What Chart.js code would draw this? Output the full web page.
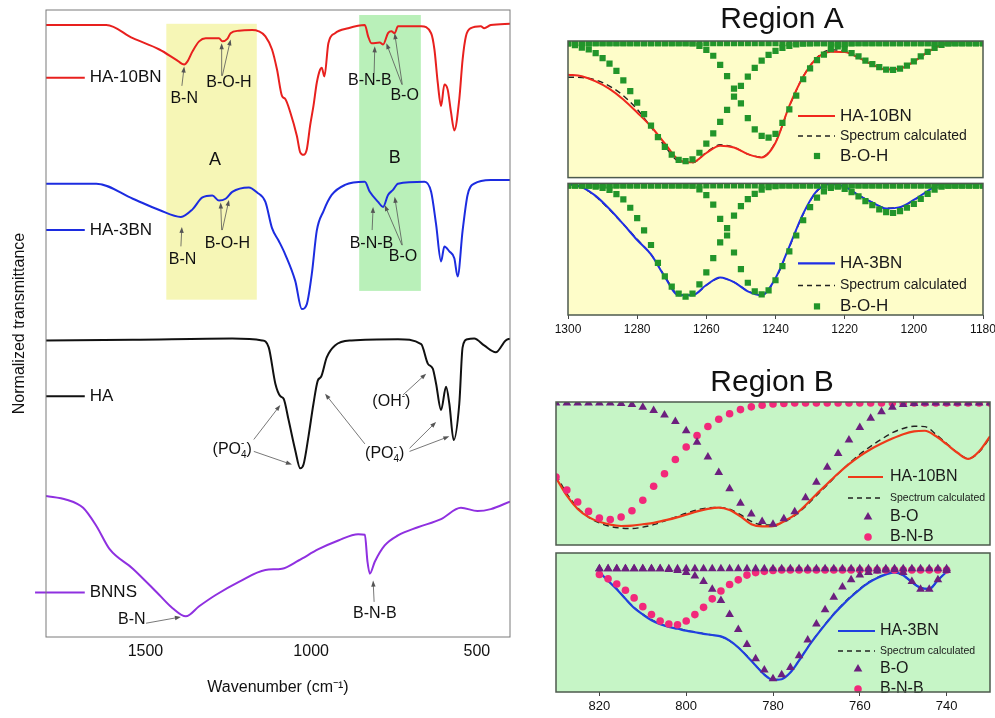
<!DOCTYPE html>
<html>
<head>
<meta charset="utf-8">
<script src="https://cdn.jsdelivr.net/npm/chart.js@4.4.1/dist/chart.umd.min.js"></script>
<style>
html, body { margin: 0; padding: 0; background: #fff; }
#wrap { position: relative; width: 995px; height: 718px; overflow: hidden; }
canvas { position: absolute; }
</style>
</head>
<body>
<div id="wrap">
  <canvas id="main" width="540" height="718" style="left:0;top:0"></canvas>
  <canvas id="aTop" width="440" height="182" style="left:555px;top:0"></canvas>
  <canvas id="aBot" width="460" height="170" style="left:545px;top:179px"></canvas>
  <canvas id="bTop" width="445" height="190" style="left:550px;top:360px"></canvas>
  <canvas id="bBot" width="445" height="172" style="left:550px;top:548px"></canvas>
</div>
<script>
// ---- main FTIR spectra (wavenumber, normalized transmittance, offset per sample)
var ha10Wn = [1800,1618,1538,1458,1408,1383,1373,1358,1338,1318,1278,1268,1253,1243,1218,1178,1158,1138,1118,1103,1088,1078,1063,1043,1033,1023,1013,1003,993,983,973,968,960,948,928,888,838,828,818,793,783,768,758,748,738,668,638,628,618,608,598,588,578,568,553,543,533,518,488,478,458,400];
var ha10T  = [97.6,97.6,95.5,93.7,92.1,91.3,91.8,93.4,95.0,95.5,95.5,95.0,95.4,96.3,96.7,96.8,96.6,95.8,93.7,90.5,86.3,85.8,83.7,79.9,77.3,76.9,77.8,81.6,84.7,88.4,90.5,90.8,89.4,94.7,96.3,97.1,97.6,95.8,94.7,94.8,94.5,96.3,96.6,96.3,97.4,97.4,96.3,93.7,88.4,84.7,88.1,87.3,83.7,80.8,85.8,92.1,95.8,97.1,97.4,97.1,97.6,97.8];

var ha3Wn = [1800,1648,1538,1458,1393,1358,1328,1298,1278,1258,1238,1188,1163,1138,1118,1098,1078,1048,1028,1013,998,983,963,938,898,838,823,798,783,768,753,738,658,638,623,608,598,583,568,558,543,528,508,458,400];
var ha3T  = [72.3,72.3,69.9,68.1,67.0,68.2,70.1,70.4,69.6,69.9,71.0,71.7,70.9,69.4,65.2,63.2,61.0,56.8,52.3,53.1,57.9,64.8,67.9,70.5,72.1,72.6,71.0,69.4,68.6,70.5,71.3,72.3,72.6,71.0,65.8,59.9,62.3,61.5,60.4,57.5,64.8,70.5,72.3,72.9,72.9];

var haWn = [1800,1538,1238,1148,1128,1108,1093,1083,1068,1048,1033,1023,1008,993,980,970,953,928,878,738,668,648,633,623,608,593,583,570,553,543,528,508,478,443,413,400];
var haT  = [47.3,47.4,47.6,47.3,46.2,40.4,38.4,38.0,34.6,29.8,26.9,27.5,32.0,37.2,40.9,41.5,44.6,46.5,47.3,47.5,46.7,43.6,42.8,40.4,36.2,39.9,37.2,31.4,37.2,46.2,47.5,47.6,46.5,45.4,47.3,47.6];

var bnnsWn = [1800,1738,1688,1648,1608,1538,1458,1418,1378,1338,1288,1218,1138,1088,1038,978,918,858,838,830,823,808,778,738,678,608,548,498,458,400];
var bnnsT  = [22.5,21.9,20.6,17.7,14.0,10.9,6.7,4.6,3.3,4.9,6.7,8.8,10.7,10.9,12.2,14.0,15.4,16.4,16.3,12.0,10.1,12.0,14.6,16.2,17.5,18.8,20.6,20.1,20.4,21.6];

var mainTicks = [1500, 1000, 500];

// ---- Region A (1300-1180 cm-1), fitted B-O-H components
var aLineWn = [1300,1296,1292,1288,1284,1280,1276,1272,1268,1264,1260,1256,1252,1248,1244,1240,1236,1232,1228,1224,1220,1216,1212,1208,1204,1200,1196,1192,1188,1184,1180];
var aTopHA10 = [0.753,0.742,0.705,0.650,0.572,0.476,0.374,0.250,0.130,0.112,0.180,0.233,0.220,0.172,0.148,0.255,0.525,0.738,0.875,0.922,0.920,0.878,0.828,0.792,0.799,0.849,0.918,0.972,0.994,1.000,1.000];
var aTopCalc = [0.735,0.732,0.715,0.670,0.600,0.500,0.370,0.230,0.120,0.108,0.185,0.240,0.222,0.172,0.150,0.260,0.520,0.740,0.880,0.935,0.925,0.880,0.830,0.792,0.800,0.850,0.918,0.972,0.994,1.000,1.000];
var aBotHA3  = [1.000,0.972,0.905,0.805,0.690,0.570,0.460,0.290,0.150,0.150,0.228,0.285,0.250,0.180,0.150,0.280,0.520,0.770,0.945,0.997,0.975,0.910,0.855,0.810,0.820,0.875,0.942,1.000,1.000,1.000,1.000];
var aBotCalc = [0.995,0.968,0.900,0.800,0.690,0.575,0.460,0.295,0.155,0.150,0.225,0.282,0.250,0.182,0.155,0.275,0.515,0.765,0.940,0.995,0.973,0.912,0.855,0.812,0.818,0.872,0.940,0.998,1.000,1.000,1.000];

var aDotWn = [1300,1298,1296,1294,1292,1290,1288,1286,1284,1282,1280,1278,1276,1274,1272,1270,1268,1266,1264,1262,1260,1258,1256,1254,1252,1250,1248,1246,1244,1242,1240,1238,1236,1234,1232,1230,1228,1226,1224,1222,1220,1218,1216,1214,1212,1210,1208,1206,1204,1202,1200,1198,1196,1194,1192,1190,1188,1186,1184,1182,1180];
var aTopBoh1 = [0.983,0.969,0.952,0.938,0.911,0.875,0.835,0.782,0.712,0.633,
                0.549,0.465,0.381,0.297,0.225,0.168,0.129,0.120,0.134,0.182,
                0.249,0.324,0.408,0.496,0.592,0.671,0.739,0.803,0.856,0.899,
                0.928,0.950,0.965,0.975,0.980,0.983,0.985,0.985,0.985,0.985,
                0.985,0.985,0.985,0.985,0.985,0.985,0.985,0.985,0.985,0.985,
                0.985,0.985,0.985,0.985,0.985,0.985,0.985,0.985,0.985,0.985,0.985];
var aTopBoh2 = [0.985,0.985,0.985,0.985,0.985,0.985,0.985,0.985,0.985,0.985,
                0.985,0.985,0.985,0.985,0.985,0.985,0.985,0.985,0.983,0.964,
                0.935,0.892,0.825,0.743,0.652,0.544,0.436,0.353,0.305,0.293,
                0.320,0.400,0.500,0.600,0.720,0.800,0.860,0.900,0.940,0.960,
                0.975,0.983,0.985,0.985,0.985,0.985,0.985,0.985,0.985,0.985,
                0.985,0.985,0.985,0.985,0.985,0.985,0.985,0.985,0.985,0.985,0.985];
var aTopBoh3 = [0.985,0.985,0.985,0.985,0.985,0.985,0.985,0.985,0.985,0.985,
                0.985,0.985,0.985,0.985,0.985,0.985,0.985,0.985,0.985,0.985,
                0.985,0.985,0.985,0.985,0.985,0.985,0.985,0.985,0.985,0.985,
                0.985,0.985,0.985,0.985,0.985,0.985,0.985,0.985,0.985,0.976,
                0.940,0.911,0.887,0.856,0.830,0.808,0.791,0.789,0.798,0.820,
                0.851,0.887,0.921,0.950,0.971,0.983,0.985,0.985,0.985,0.985,0.985];
var aBotBoh1 = [0.985,0.985,0.985,0.983,0.976,0.966,0.950,0.918,0.878,0.815,
                0.736,0.643,0.532,0.396,0.293,0.216,0.163,0.139,0.163,0.233,
                0.324,0.432,0.552,0.660,0.755,0.827,0.880,0.921,0.952,0.971,
                0.980,0.985,0.985,0.985,0.985,0.985,0.985,0.985,0.985,0.985,
                0.985,0.985,0.985,0.985,0.985,0.985,0.985,0.985,0.985,0.985,
                0.985,0.985,0.985,0.985,0.985,0.985,0.985,0.985,0.985,0.985,0.985];
var aBotBoh2 = [0.985,0.985,0.985,0.985,0.985,0.985,0.985,0.985,0.985,0.985,
                0.985,0.985,0.985,0.985,0.985,0.985,0.985,0.985,0.983,0.954,
                0.911,0.839,0.731,0.604,0.475,0.348,0.245,0.180,0.156,0.187,
                0.264,0.372,0.484,0.604,0.720,0.820,0.892,0.940,0.966,0.983,
                0.985,0.985,0.985,0.985,0.985,0.985,0.985,0.985,0.985,0.985,
                0.985,0.985,0.985,0.985,0.985,0.985,0.985,0.985,0.985,0.985,0.985];
var aBotBoh3 = [0.985,0.985,0.985,0.985,0.985,0.985,0.985,0.985,0.985,0.985,
                0.985,0.985,0.985,0.985,0.985,0.985,0.985,0.985,0.985,0.985,
                0.985,0.985,0.985,0.985,0.985,0.985,0.985,0.985,0.985,0.985,
                0.985,0.985,0.985,0.985,0.985,0.985,0.985,0.985,0.980,0.975,
                0.959,0.933,0.902,0.866,0.835,0.803,0.782,0.775,0.789,0.815,
                0.844,0.882,0.921,0.952,0.976,0.983,0.985,0.985,0.985,0.985,0.985];
var aTicks = [1300, 1280, 1260, 1240, 1220, 1200, 1180];

// ---- Region B (830-730 cm-1), fitted B-O and B-N-B components
var bTopWn = [830,827.5,825,822.5,820,817.5,815,812.5,810,807.5,805,802.5,800,797.5,795,792.5,790,787.5,785,782.5,780,777.5,775,772.5,770,767.5,765,762.5,760,757.5,755,752.5,750,747.5,745,742.5,740,737.5,735,732.5,730];
var bTopHA10 = [0.470,0.345,0.252,0.195,0.162,0.142,0.133,0.135,0.145,0.155,
                0.172,0.190,0.212,0.235,0.253,0.262,0.245,0.200,0.145,0.130,
                0.132,0.165,0.210,0.278,0.355,0.428,0.500,0.565,0.622,0.670,
                0.710,0.745,0.775,0.795,0.799,0.762,0.705,0.645,0.602,0.655,0.760];
var bTopCalc = [0.490,0.360,0.260,0.195,0.155,0.130,0.118,0.115,0.125,0.142,
                0.168,0.195,0.222,0.245,0.260,0.262,0.250,0.212,0.165,0.140,
                0.140,0.160,0.205,0.270,0.345,0.420,0.498,0.570,0.635,0.690,
                0.740,0.785,0.815,0.830,0.828,0.775,0.710,0.645,0.605,0.650,0.750];
var bTopBO  = [0.993,0.993,0.993,0.993,0.993,0.993,0.989,0.982,0.963,0.941,
               0.909,0.863,0.799,0.719,0.616,0.507,0.393,0.292,0.217,0.164,
               0.145,0.183,0.233,0.331,0.438,0.543,0.639,0.735,0.822,0.886,
               0.932,0.963,0.982,0.990,0.993,0.993,0.993,0.993,0.993,0.993,0.993];
var bTopBNB = [0.475,0.384,0.301,0.235,0.189,0.178,0.196,0.240,0.313,0.411,
               0.498,0.598,0.685,0.765,0.829,0.879,0.918,0.947,0.966,0.977,
               0.986,0.990,0.993,0.993,0.993,0.993,0.993,0.993,0.993,0.993,
               0.993,0.993,0.993,0.993,0.993,0.993,0.993,0.993,0.993,0.993,0.993];

var bBotWn = [820,818,816,814,812,810,808,806,804,802,800,798,796,794,792,790,788,786,784,782,780,778,776,774,772,770,768,766,764,762,760,758,756,754,752,750,748,746,744,742,740];
var bBotHA3  = [0.864,0.800,0.740,0.670,0.605,0.557,0.516,0.487,0.468,0.455,
                0.441,0.430,0.418,0.410,0.400,0.370,0.320,0.258,0.190,0.125,
                0.088,0.092,0.140,0.225,0.320,0.405,0.485,0.560,0.625,0.685,
                0.739,0.786,0.820,0.846,0.860,0.840,0.790,0.750,0.742,0.805,0.865];
var bBotCalc = [0.860,0.800,0.742,0.672,0.607,0.560,0.520,0.490,0.470,0.457,
                0.443,0.432,0.420,0.410,0.398,0.368,0.320,0.260,0.192,0.127,
                0.090,0.095,0.143,0.228,0.322,0.407,0.488,0.563,0.630,0.690,
                0.743,0.790,0.823,0.848,0.860,0.838,0.790,0.750,0.742,0.805,0.865];
var bBotBO1 = [0.886,0.886,0.886,0.886,0.886,0.886,0.886,0.886,0.882,0.875,
               0.859,0.834,0.795,0.739,0.659,0.557,0.450,0.341,0.239,0.159,
               0.095,0.125,0.177,0.261,0.375,0.489,0.591,0.682,0.755,0.807,
               0.841,0.859,0.870,0.877,0.882,0.886,0.886,0.886,0.886,0.886,0.886];
var bBotBO2 = [0.886,0.886,0.886,0.886,0.886,0.886,0.886,0.886,0.886,0.886,
               0.886,0.886,0.886,0.886,0.886,0.886,0.886,0.886,0.886,0.886,
               0.886,0.886,0.886,0.886,0.886,0.886,0.886,0.886,0.886,0.886,
               0.886,0.886,0.886,0.886,0.886,0.859,0.795,0.739,0.739,0.807,0.875];
var bBotBNB = [0.845,0.814,0.777,0.732,0.677,0.614,0.557,0.511,0.489,0.484,
               0.511,0.557,0.609,0.670,0.727,0.773,0.807,0.841,0.859,0.868,
               0.875,0.878,0.878,0.878,0.878,0.878,0.878,0.878,0.878,0.878,
               0.878,0.878,0.878,0.878,0.878,0.878,0.878,0.878,0.878,0.878,0.878];
var bTicks = [820, 800, 780, 760, 740];

var FONT = '"Liberation Sans", Arial, Helvetica, sans-serif';
Chart.defaults.font.family = FONT;
Chart.defaults.color = '#111';
Chart.defaults.animation = false;

function pts(xs, ys) {
    return xs.map(function (x, i) { return {x: x, y: ys[i]}; });
}

function lineSet(xs, ys, color, width, dash) {
    return {
        data: pts(xs, ys), showLine: true, borderColor: color, borderWidth: width,
        borderDash: dash || [], pointRadius: 0, pointHoverRadius: 0,
        cubicInterpolationMode: 'monotone', fill: false, clip: 0
    };
}

function dotSet(xs, ys, color, style, r) {
    return {
        data: pts(xs, ys), showLine: false, pointStyle: style, pointRadius: r, pointHoverRadius: r,
        backgroundColor: color, borderColor: color, borderWidth: 0, clip: 0
    };
}

function arrow(ctx, x1, y1, x2, y2) {
    var a = Math.atan2(y2 - y1, x2 - x1), L = 6, W = 2.2;
    ctx.beginPath();
    ctx.moveTo(x1, y1);
    ctx.lineTo(x2 - Math.cos(a) * L * 0.8, y2 - Math.sin(a) * L * 0.8);
    ctx.stroke();
    ctx.beginPath();
    ctx.moveTo(x2, y2);
    ctx.lineTo(x2 - L * Math.cos(a) + W * Math.sin(a), y2 - L * Math.sin(a) - W * Math.cos(a));
    ctx.lineTo(x2 - L * Math.cos(a) - W * Math.sin(a), y2 - L * Math.sin(a) + W * Math.cos(a));
    ctx.closePath();
    ctx.fill();
}

// text with sub/superscripts: parts = [[text, kind, extraSup]]
function drawRich(ctx, parts, cx, cy, size) {
    var small = Math.round(size * 0.6);
    var ws = parts.map(function (p) {
        if (!p[1]) { ctx.font = size + 'px ' + FONT; return ctx.measureText(p[0]).width; }
        ctx.font = small + 'px ' + FONT;
        return Math.max(ctx.measureText(p[0]).width, p[2] ? ctx.measureText(p[2]).width : 0);
    });
    var total = ws.reduce(function (s, w) { return s + w; }, 0);
    var x = cx - total / 2;
    ctx.textAlign = 'left';
    ctx.textBaseline = 'middle';
    parts.forEach(function (p, i) {
        if (!p[1]) {
            ctx.font = size + 'px ' + FONT;
            ctx.fillText(p[0], x, cy);
        } else {
            ctx.font = small + 'px ' + FONT;
            ctx.fillText(p[0], x, p[1] === 'sub' ? cy + size * 0.35 : cy - size * 0.38);
            if (p[2]) ctx.fillText(p[2], x, cy - size * 0.38);
        }
        x += ws[i];
    });
}

// ---------------- main chart ----------------
var PO4 = [['(PO', ''], ['4', 'sub', '-'], [')', '']];
var OH = [['(OH', ''], ['-', 'sup'], [')', '']];

var mainBoxes = [
    {x0: 1437, x1: 1164, y0: 53.8, y1: 97.8, color: '#f6f6b6'},
    {x0: 855, x1: 669, y0: 55.2, y1: 99.2, color: '#b9f0b9'}
];
var mainKeys = [
    {label: 'HA-10BN', color: '#e8201e', y: 89.2, x0: 1800},
    {label: 'HA-3BN', color: '#1c2ce0', y: 64.9, x0: 1800},
    {label: 'HA', color: '#111111', y: 38.4, x0: 1800},
    {label: 'BNNS', color: '#8f30e0', y: 7.1, x0: 1833}
];
var mainNotes = [
    {t: 'B-N', x: 1383, y: 85.8}, {t: 'B-O-H', x: 1248, y: 88.4},
    {t: 'A', x: 1290, y: 76.1, size: 18}, {t: 'B', x: 748, y: 76.4, size: 18},
    {t: 'B-N-B', x: 823, y: 88.7}, {t: 'B-O', x: 718, y: 86.3},
    {t: 'B-N', x: 1388, y: 60.2}, {t: 'B-O-H', x: 1253, y: 62.8},
    {t: 'B-N-B', x: 818, y: 62.8}, {t: 'B-O', x: 723, y: 60.7},
    {rich: PO4, x: 1238, y: 29.9}, {rich: OH, x: 758, y: 37.5}, {rich: PO4, x: 778, y: 29.3},
    {t: 'B-N', x: 1541, y: 2.7}, {t: 'B-N-B', x: 808, y: 3.75}
];
var mainArrows = [
    [1390, 87.9, 1383, 91.0],
    [1270, 89.5, 1270, 94.7], [1268, 89.5, 1243, 95.3],
    [810, 89.9, 808, 94.2],
    [726, 88.1, 773, 94.7], [725, 88.1, 748, 96.3],
    [1393, 62.3, 1390, 65.4],
    [1270, 64.9, 1273, 69.3], [1268, 64.9, 1248, 69.7],
    [816, 64.9, 813, 68.6],
    [726, 62.5, 778, 68.9], [725, 62.5, 748, 70.2],
    [1173, 31.5, 1093, 37.0], [1173, 29.6, 1058, 27.5],
    [723, 38.6, 653, 42.0],
    [838, 30.8, 958, 38.8], [703, 30.1, 623, 34.3], [703, 29.6, 583, 32.0],
    [1498, 2.2, 1393, 3.2],
    [810, 5.6, 813, 9.0]
];

var mainDeco = {
    id: 'mainDeco',
    beforeDatasetsDraw: function (chart) {
        var ctx = chart.ctx, x = chart.scales.x, y = chart.scales.y;
        ctx.save();
        mainBoxes.forEach(function (b) {
            var px0 = x.getPixelForValue(b.x0), px1 = x.getPixelForValue(b.x1);
            var py0 = y.getPixelForValue(b.y1), py1 = y.getPixelForValue(b.y0);
            ctx.fillStyle = b.color;
            ctx.fillRect(px0, py0, px1 - px0, py1 - py0);
        });
        ctx.restore();
    },
    afterDatasetsDraw: function (chart) {
        var ctx = chart.ctx, x = chart.scales.x, y = chart.scales.y, a = chart.chartArea;
        ctx.save();
        mainKeys.forEach(function (k) {
            var py = y.getPixelForValue(k.y);
            ctx.strokeStyle = k.color;
            ctx.lineWidth = 2;
            ctx.beginPath();
            ctx.moveTo(x.getPixelForValue(k.x0), py);
            ctx.lineTo(x.getPixelForValue(1683), py);
            ctx.stroke();
            ctx.fillStyle = '#111';
            ctx.font = '17px ' + FONT;
            ctx.textAlign = 'left';
            ctx.textBaseline = 'middle';
            ctx.fillText(k.label, x.getPixelForValue(1668), py);
        });
        ctx.strokeStyle = '#555';
        ctx.fillStyle = '#555';
        ctx.lineWidth = 0.8;
        mainArrows.forEach(function (r) {
            arrow(ctx, x.getPixelForValue(r[0]), y.getPixelForValue(r[1]), x.getPixelForValue(r[2]), y.getPixelForValue(r[3]));
        });
        ctx.fillStyle = '#111';
        mainNotes.forEach(function (n) {
            var px = x.getPixelForValue(n.x), py = y.getPixelForValue(n.y);
            if (n.rich) {
                drawRich(ctx, n.rich, px, py, 16);
            } else {
                ctx.font = (n.size || 16) + 'px ' + FONT;
                ctx.textAlign = 'center';
                ctx.textBaseline = 'middle';
                ctx.fillText(n.t, px, py);
            }
        });
        ctx.strokeStyle = '#7a7a7a';
        ctx.lineWidth = 1;
        ctx.strokeRect(a.left, a.top, a.right - a.left, a.bottom - a.top);
        ctx.restore();
    }
};

new Chart(document.getElementById('main'), {
    type: 'scatter',
    data: {
        datasets: [
            lineSet(ha10Wn, ha10T, '#e8201e', 2),
            lineSet(ha3Wn, ha3T, '#1c2ce0', 2),
            lineSet(haWn, haT, '#111111', 2),
            lineSet(bnnsWn, bnnsT, '#8f30e0', 2)
        ]
    },
    options: {
        responsive: false,
        animation: false,
        events: [],
        layout: {padding: {left: 4, right: 30, top: 10, bottom: 16.4}},
        plugins: {legend: {display: false}, tooltip: {enabled: false}},
        scales: {
            x: {
                type: 'linear', min: 400, max: 1800, reverse: true,
                grid: {display: false, drawTicks: false}, border: {display: false},
                afterBuildTicks: function (s) { s.ticks = mainTicks.map(function (v) { return {value: v}; }); },
                ticks: {font: {size: 16}, padding: 5, maxRotation: 0, autoSkip: false, color: '#111',
                        callback: function (v) { return String(v); }},
                title: {display: true, text: 'Wavenumber (cm\u207B\u00B9)', font: {size: 16}, color: '#111',
                        padding: {top: 12.2, bottom: 4}}
            },
            y: {
                min: 0, max: 100,
                grid: {display: false, drawTicks: false}, border: {display: false},
                ticks: {display: false},
                title: {display: true, text: 'Normalized transmittance', font: {size: 16}, color: '#111',
                        padding: {top: 6.4, bottom: 16.4}}
            }
        }
    },
    plugins: [mainDeco]
});

// ---------------- region panels ----------------
var panelPlugin = {
    id: 'panel',
    beforeDraw: function (chart, args, o) {
        var a = chart.chartArea, ctx = chart.ctx;
        ctx.save();
        ctx.fillStyle = o.bg;
        ctx.fillRect(a.left, a.top, a.right - a.left, a.bottom - a.top);
        ctx.restore();
    },
    afterDraw: function (chart, args, o) {
        var a = chart.chartArea, ctx = chart.ctx, kx = o.keyX;
        ctx.save();
        (o.keys || []).forEach(function (k) {
            var y = a.top + k.dy;
            if (k.kind === 'line' || k.kind === 'dash') {
                ctx.strokeStyle = k.color;
                ctx.lineWidth = k.kind === 'line' ? 2.2 : 1.5;
                ctx.setLineDash(k.kind === 'dash' ? [5, 4] : []);
                ctx.beginPath();
                ctx.moveTo(a.left + kx[0], y);
                ctx.lineTo(a.left + kx[1], y);
                ctx.stroke();
                ctx.setLineDash([]);
            } else {
                ctx.fillStyle = k.color;
                Chart.helpers.drawPoint(ctx, {pointStyle: k.kind, radius: k.r, rotation: 0, borderWidth: 0}, a.left + kx[2], y);
            }
            ctx.fillStyle = '#1a1a1a';
            ctx.font = k.size + 'px ' + FONT;
            ctx.textAlign = 'left';
            ctx.textBaseline = 'middle';
            ctx.fillText(k.label, a.left + kx[3], y);
        });
        if (o.title) {
            ctx.fillStyle = '#111';
            ctx.font = '30px ' + FONT;
            ctx.textAlign = 'center';
            ctx.textBaseline = 'middle';
            ctx.fillText(o.title, o.titleX, o.titleY);
        }
        ctx.strokeStyle = '#4d5a4d';
        ctx.lineWidth = 1.5;
        ctx.strokeRect(a.left, a.top, a.right - a.left, a.bottom - a.top);
        ctx.restore();
    }
};

function panel(id, cfg) {
    var xs = {type: 'linear', min: cfg.xmin, max: cfg.xmax, reverse: true, display: false};
    if (cfg.ticks) {
        xs = {
            type: 'linear', min: cfg.xmin, max: cfg.xmax, reverse: true, display: true,
            grid: {display: true, drawOnChartArea: false, drawTicks: true, tickLength: 4, color: '#444'},
            border: {display: false},
            afterBuildTicks: function (s) { s.ticks = cfg.ticks.map(function (v) { return {value: v}; }); },
            ticks: {font: {size: cfg.tickSize}, padding: 3, maxRotation: 0, autoSkip: false, color: '#111',
                    callback: function (v) { return String(v); }}
        };
    }
    return new Chart(document.getElementById(id), {
        type: 'scatter',
        data: {datasets: cfg.datasets},
        options: {
            responsive: false,
            animation: false,
            events: [],
            layout: {padding: cfg.pad},
            plugins: {
                legend: {display: false},
                tooltip: {enabled: false},
                panel: {bg: cfg.bg, keys: cfg.keys, keyX: cfg.keyX, title: cfg.title, titleX: cfg.titleX, titleY: cfg.titleY}
            },
            scales: {x: xs, y: {display: false, min: 0, max: 1}}
        },
        plugins: [panelPlugin]
    });
}

var GREEN = '#22952a', PURPLE = '#6c1f7e', PINK = '#f2287a';
var A_BG = '#fefdc9', B_BG = '#c6f5c6';
var SQ = 4.4, TRI = 5, CIR = 3.8;

panel('aTop', {
    xmin: 1180, xmax: 1300, bg: A_BG,
    pad: {left: 13, right: 12, top: 41, bottom: 3},
    title: 'Region A', titleX: 227, titleY: 20,
    datasets: [
        dotSet(aDotWn, aTopBoh1, GREEN, 'rect', SQ),
        dotSet(aDotWn, aTopBoh2, GREEN, 'rect', SQ),
        dotSet(aDotWn, aTopBoh3, GREEN, 'rect', SQ),
        lineSet(aLineWn, aTopHA10, '#f0281e', 2),
        lineSet(aLineWn, aTopCalc, '#222', 1.4, [6, 4])
    ],
    keyX: [230, 267, 249, 272],
    keys: [
        {kind: 'line', color: '#f0281e', label: 'HA-10BN', dy: 75, size: 17},
        {kind: 'dash', color: '#222', label: 'Spectrum calculated', dy: 95, size: 14},
        {kind: 'rect', color: GREEN, r: SQ, label: 'B-O-H', dy: 115, size: 17}
    ]
});

panel('aBot', {
    xmin: 1180, xmax: 1300, bg: A_BG, ticks: aTicks, tickSize: 12,
    pad: {left: 23, right: 22, top: 0, bottom: 9.6},
    datasets: [
        dotSet(aDotWn, aBotBoh1, GREEN, 'rect', SQ),
        dotSet(aDotWn, aBotBoh2, GREEN, 'rect', SQ),
        dotSet(aDotWn, aBotBoh3, GREEN, 'rect', SQ),
        lineSet(aLineWn, aBotHA3, '#1f2ee6', 2),
        lineSet(aLineWn, aBotCalc, '#222', 1.4, [6, 4])
    ],
    keyX: [230, 267, 249, 272],
    keys: [
        {kind: 'line', color: '#1f2ee6', label: 'HA-3BN', dy: 80, size: 17},
        {kind: 'dash', color: '#222', label: 'Spectrum calculated', dy: 102, size: 14},
        {kind: 'rect', color: GREEN, r: SQ, label: 'B-O-H', dy: 123, size: 17}
    ]
});

panel('bTop', {
    xmin: 730, xmax: 830, bg: B_BG,
    pad: {left: 6, right: 3, top: 42, bottom: 2},
    title: 'Region B', titleX: 222, titleY: 23,
    datasets: [
        dotSet(bTopWn, bTopBO, PURPLE, 'triangle', TRI),
        dotSet(bTopWn, bTopBNB, PINK, 'circle', CIR),
        lineSet(bTopWn, bTopHA10, '#ee3a1a', 2.2),
        lineSet(bTopWn, bTopCalc, '#222', 1.4, [6, 4])
    ],
    keyX: [292, 327, 312, 334],
    keys: [
        {kind: 'line', color: '#ee3a1a', label: 'HA-10BN', dy: 75, size: 16},
        {kind: 'dash', color: '#222', label: 'Spectrum calculated', dy: 96, size: 10.5},
        {kind: 'triangle', color: PURPLE, r: TRI, label: 'B-O', dy: 115, size: 16},
        {kind: 'circle', color: PINK, r: CIR, label: 'B-N-B', dy: 135, size: 16}
    ]
});

panel('bBot', {
    xmin: 730, xmax: 830, bg: B_BG, ticks: bTicks, tickSize: 13,
    pad: {left: 6, right: 3, top: 0, bottom: 2.4},
    datasets: [
        dotSet(bBotWn, bBotBO1, PURPLE, 'triangle', TRI),
        dotSet(bBotWn, bBotBO2, PURPLE, 'triangle', TRI),
        dotSet(bBotWn, bBotBNB, PINK, 'circle', CIR),
        lineSet(bBotWn, bBotHA3, '#2040e0', 2.2),
        lineSet(bBotWn, bBotCalc, '#222', 1.4, [6, 4])
    ],
    keyX: [282, 319, 302, 324],
    keys: [
        {kind: 'line', color: '#2040e0', label: 'HA-3BN', dy: 78, size: 16},
        {kind: 'dash', color: '#222', label: 'Spectrum calculated', dy: 98, size: 10.5},
        {kind: 'triangle', color: PURPLE, r: TRI, label: 'B-O', dy: 116, size: 16},
        {kind: 'circle', color: PINK, r: CIR, label: 'B-N-B', dy: 136, size: 16}
    ]
});
</script>
</body>
</html>
